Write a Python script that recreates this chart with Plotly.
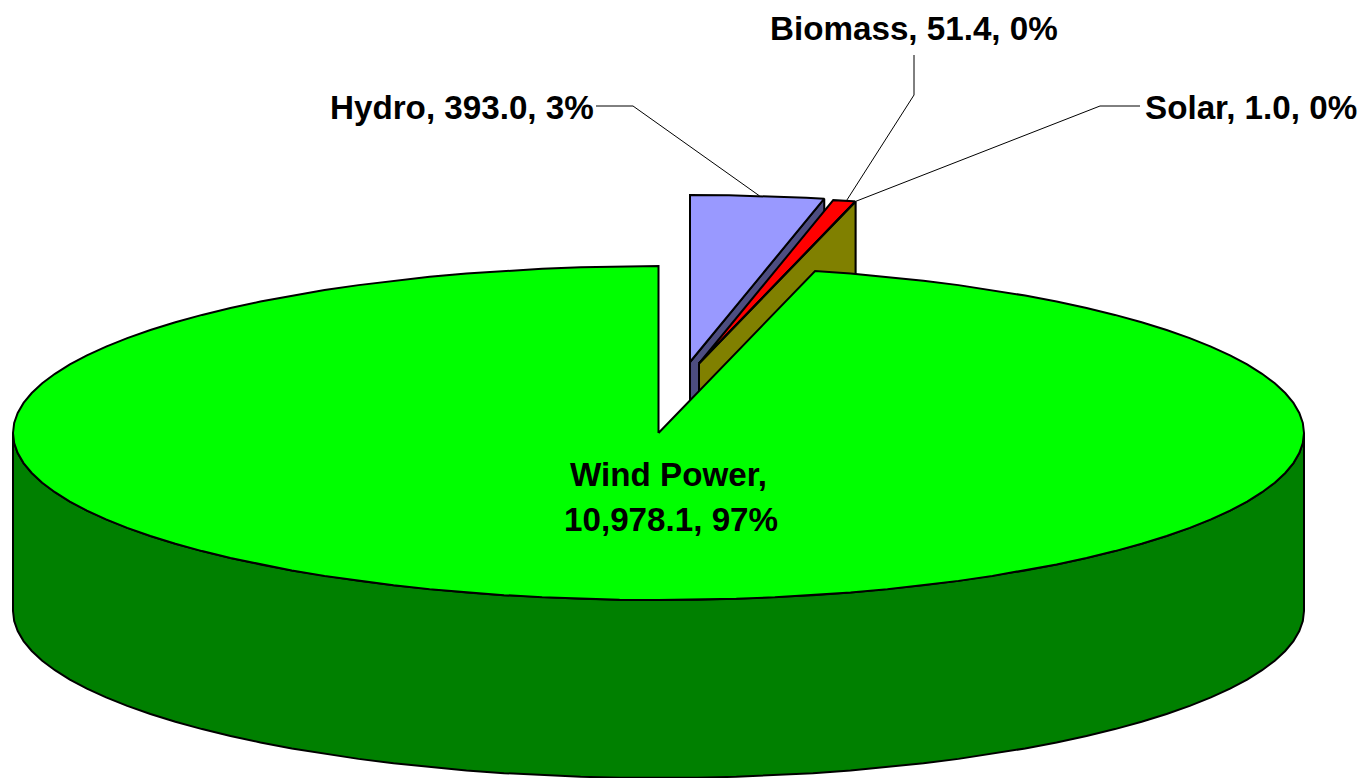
import numpy as np
import plotly.graph_objects as go

# ---- data ----
categories = ["Wind Power", "Hydro", "Biomass", "Solar"]
values = [10978.1, 393.0, 51.4, 1.0]
percent_labels = ["97%", "3%", "0%", "0%"]

# ---- styles ----
top_colors = ["#00FF00", "#9999FF", "#FF0000", "#FFFF00"]
side_colors = ["#008000", "#4D4D80", "#800000", "#808000"]

# ---- projection of the pie ----
CX, CY, RX, RY, DEPTH = 658.5, 433.0, 645.5, 167.0, 178.0
STEP = 360 / 104
OFFSET_X = {"Wind Power": 0.0, "Hydro": 31.5, "Biomass": 40.5, "Solar": 40.5}
OFFSET_Y = {"Wind Power": 0.0, "Hydro": -71.0, "Biomass": -69.5, "Solar": -69.5}
HYDRO_TRIM = 0.38  # drawn edge of the Hydro/Biomass boundary sits slightly before the true angle
LINE_W = 2.0

total = sum(values)
sweep = {c: v / total * 360 for c, v in zip(categories, values)}
start = {}
acc = 0.0
for c in ["Hydro", "Biomass", "Solar", "Wind Power"]:
    start[c] = acc
    acc += sweep[c]


def arc(a, b):
    inner = [k * STEP for k in range(int(a // STEP) + 1, int(np.ceil(b / STEP))) if a < k * STEP < b]
    return np.array([a] + inner + [b])


def project(ang, dx=0.0, dy=0.0, dz=0.0):
    r = np.radians(ang)
    return CX + dx + RX * np.sin(r), CY + dy + dz - RY * np.cos(r)


fig = go.Figure()


def poly(xs, ys, color):
    fig.add_trace(go.Scatter(
        x=list(xs), y=list(ys), mode="lines", fill="toself", fillcolor=color,
        line=dict(color="black", width=LINE_W), hoverinfo="skip", showlegend=False))


def exploded(c, a, b):
    i = categories.index(c)
    dx, dy = OFFSET_X[c], OFFSET_Y[c]
    ax, ay = CX + dx, CY + dy
    ex, ey = project(b, dx, dy)
    poly([ax, ex, ex, ax, ax], [ay, ey, ey + DEPTH, ay + DEPTH, ay], side_colors[i])
    xs, ys = project(arc(a, b), dx, dy)
    poly([ax, *xs, ax], [ay, *ys, ay], top_colors[i])


exploded("Hydro", start["Hydro"], start["Hydro"] + sweep["Hydro"] - HYDRO_TRIM)
exploded("Biomass", start["Biomass"] - HYDRO_TRIM, start["Biomass"] + sweep["Biomass"])
exploded("Solar", start["Solar"], start["Solar"] + sweep["Solar"])

# big slice: outer wall, then top
t = arc(90, 270)
x1, y1 = project(t)
x2, y2 = project(t[::-1], dz=DEPTH)
poly([*x1, *x2, x1[0]], [*y1, *y2, y1[0]], side_colors[0])
t = arc(start["Wind Power"], 360)
xs, ys = project(t)
poly([CX, *xs, CX], [CY, *ys, CY], top_colors[0])


# ---- leader lines ----
def anchor(c):
    mid = start[c] + sweep[c] / 2
    return project(mid, OFFSET_X[c], OFFSET_Y[c])


leaders = {"Hydro": ([596, 633], [106, 106]),
           "Biomass": ([914, 914], [55, 95]),
           "Solar": ([1140, 1100], [106, 106])}
for c, (lx, ly) in leaders.items():
    ax, ay = anchor(c)
    fig.add_trace(go.Scatter(x=[*lx, ax], y=[*ly, ay], mode="lines",
                             line=dict(color="black", width=1.0),
                             hoverinfo="skip", showlegend=False))


# ---- labels ----
def label(c):
    i = categories.index(c)
    return f"{c}, {values[i]:,.1f}, {percent_labels[i]}"


FONT = dict(family="Liberation Sans, Arial, sans-serif", size=33.2, color="black")
notes = [
    (462, 107, label("Hydro")),
    (914, 28, label("Biomass")),
    (1251, 107, label("Solar")),
    (668.5, 474.5, "Wind Power,"),
    (670.5, 519, f"{values[0]:,.1f}, {percent_labels[0]}"),
]
annotations = [dict(x=x, y=y, xref="x", yref="y", text="<b>" + s + "</b>", showarrow=False, font=FONT,
                    xanchor="center", yanchor="middle", align="center") for x, y, s in notes]

fig.update_layout(
    width=1361, height=778, margin=dict(l=0, r=0, t=0, b=0),
    paper_bgcolor="white", plot_bgcolor="white", showlegend=False,
    xaxis=dict(range=[0, 1361], visible=False, fixedrange=True),
    yaxis=dict(range=[778, 0], visible=False, fixedrange=True),
    annotations=annotations,
)
fig.write_html("out.html", config=dict(displayModeBar=False),
               post_script="document.body.style.margin='0';")
